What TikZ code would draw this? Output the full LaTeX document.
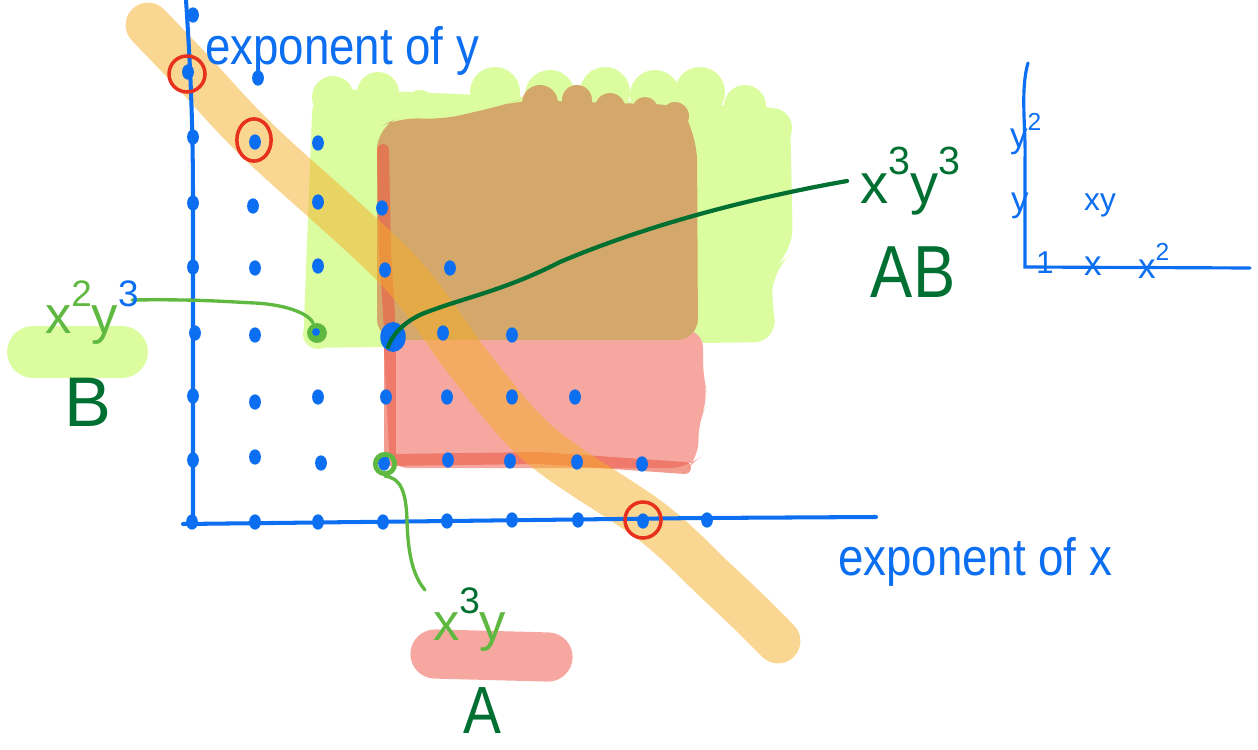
\documentclass[tikz,border=0pt]{standalone}
\usepackage{fontspec}
\setmainfont{Liberation Sans}
\usepackage{graphicx}
\usetikzlibrary{shapes.geometric}
\definecolor{pblue}{RGB}{12,110,240}
\definecolor{dgreen}{RGB}{0,112,50}
\definecolor{lgreen}{RGB}{95,185,65}
\definecolor{hgreen}{RGB}{220,252,160}
\definecolor{hred}{RGB}{246,168,160}
\definecolor{hbrown}{RGB}{212,168,106}
\definecolor{redline}{RGB}{235,90,70}
\definecolor{rcirc}{RGB}{232,48,30}
\definecolor{orangeb}{RGB}{245,173,39}
\newcommand{\rais}[1]{\raisebox{0.5em}{\scalebox{0.7}{#1}}}
\begin{document}
\begin{tikzpicture}[x=0.02cm,y=-0.02cm,
  dotn/.style={ellipse, fill=pblue, draw=pblue, line width=1.2pt, inner sep=0pt, minimum width=5.5pt, minimum height=7.5pt},
  axisline/.style={pblue, line width=2.3pt, line cap=round, line join=round},
  rring/.style={draw=rcirc, line width=2pt, inner sep=0pt},
  txt/.style={inner sep=0pt, outer sep=0pt},
  conn/.style={line width=1.9pt, line cap=round}]
\useasboundingbox (0,0) rectangle (1258,750);

% highlight blobs behind labels
\draw[hgreen, line width=29.5pt, line cap=round] (33,352) -- (122,352);
\draw[hred, line width=28pt, line cap=round] (435,654) -- (548,657);

% region B (green)
\fill[hgreen, rounded corners=14pt] (303,348) -- (313,88) -- (790,108) -- (793,252) -- (772,270) -- (772,305) -- (778,342) -- cycle;
\foreach \cx/\cy/\r in {333/97/21, 378/93/21, 420/105/15, 495/92/25, 550/95/25, 605/92/25, 655/95/25, 700/92/25, 745/106/21, 772/128/20, 318/334/15}
  \fill[hgreen] (\cx,\cy) circle[radius=\r];

% region A (red), lower part
\fill[hred, rounded corners=10pt] (383,330) -- (703,330) -- (703,378) -- (709,400) -- (698,422) -- (699,458) -- (688,468) -- (390,468) -- cycle;

% overlap AB (brown)
\fill[hbrown, rounded corners=12pt] (377,340) -- (377,128) -- (400,117) -- (440,120) -- (500,106) -- (520,100) -- (680,105) -- (697,140) -- (698,340) -- cycle;
\foreach \cx/\cy/\r in {540/103/18, 577/100/15, 610/108/15, 645/110/13, 675/116/14}
  \fill[hbrown] (\cx,\cy) circle[radius=\r];

% red edge strokes of A
\draw[redline, opacity=0.6, line width=6.8pt, line cap=round, line join=round] (383,150) -- (385,250) -- (390,330) -- (390,460) -- (540,458) -- (685,468);

% orange band
\draw[orangeb, opacity=0.5, line width=25.5pt, line cap=round, line join=round] plot[smooth, tension=0.55] coordinates {(148,25) (193,72) (260,143) (398,270) (470,365) (540,445) (652,522) (715,580) (750,613) (778,641)};

% axes
\draw[axisline] (186,0) .. controls (190,60) and (193,120) .. (193,200) -- (193,525);
\draw[axisline] (183,524) -- (450,521) -- (700,518) -- (876,517);

% lattice dots
\foreach \n/\a/\b in {p00/192/522, p10/255/522, p20/318/522, p30/383/522, p40/447/521, p50/512/520, p60/578/520, p70/643/521, p80/707/520,
  p01/193/460, p11/255/457, p21/321/463, p31/384/463, p41/448/460, p51/510/461, p61/577/462, p71/642/464,
  p02/193/396, p12/255/402, p22/318/397, p32/386/397, p42/447/397, p52/512/397, p62/575/397,
  p03/195/333, p13/255/335, p43/443/333, p53/512/335,
  p04/193/267, p14/255/268, p24/318/266, p34/385/270, p44/450/268,
  p05/193/203, p15/253/206, p25/318/202, p35/382/208,
  p06/193/137, p16/255/142, p26/318/143,
  p07/188/72, p17/258/78,
  p08/193/15}
  \node[dotn] (\n) at (\a,\b) {};

% special dots
\node[circle, fill=lgreen, inner sep=0pt, minimum size=11.3pt] (g23) at (317,333) {};
\node[circle, fill=pblue, inner sep=0pt, minimum size=4.5pt] (p23) at (316,332) {};
\node[ellipse, fill=pblue, inner sep=0pt, minimum width=14.5pt, minimum height=17pt] (p33) at (393,337) {};
\node[circle, draw=lgreen, line width=2.8pt, inner sep=0pt, minimum size=11pt] (r31) at (385,464) {};

% red circles on the line x+y=7
\node[rring, circle, minimum size=20.5pt] (c07) at (187,74) {};
\node[rring, ellipse, minimum width=19.5pt, minimum height=24pt] (c16) at (254,140) {};
\node[rring, circle, minimum size=20.5pt] (c70) at (643,520) {};

% connectors
\coordinate (e33) at (847,181);
\coordinate (e23) at (132,300);
\coordinate (e31) at (425,590);
\draw[conn, dgreen, line width=2.4pt] (388,347) .. controls (392,335) and (405,320) .. (427,312) .. controls (470,296) and (505,290) .. (560,262) .. controls (640,228) and (740,200) .. (e33);
\draw[conn, lgreen] (e23) .. controls (200,299) and (230,302) .. (255,303) .. controls (290,305) and (310,315) .. (g23);
\draw[conn, lgreen] (r31.south) .. controls (400,478) and (406,490) .. (407,520) .. controls (408,560) and (415,578) .. (e31);

% texts
\node[txt, pblue, anchor=base west, font=\fontsize{26}{30}\selectfont] (ty) at (205,65) {\scalebox{1}[1.15]{exponent of y}};
\node[txt, pblue, anchor=base west, font=\fontsize{26}{30}\selectfont] (tx) at (838,575) {\scalebox{1}[1.15]{exponent of x}};
\node[txt, dgreen, anchor=base west, font=\fontsize{32}{36}\selectfont] (t33) at (860,203) {x\rais{3}y\rais{3}};
\node[txt, dgreen, font=\fontsize{40}{44}\selectfont] (tAB) at (913,272) {\scalebox{0.9}[1.05]{AB}};
\node[txt, lgreen, anchor=base west, font=\fontsize{30}{34}\selectfont] (t23) at (45,333) {x\rais{2}y\rais{\textcolor{pblue}{3}}};
\node[txt, dgreen, font=\fontsize{40}{44}\selectfont] (tB) at (88,402) {B};
\node[txt, lgreen, anchor=base west, font=\fontsize{30}{34}\selectfont] (t31) at (433,640) {x\rais{\textcolor{dgreen}{3}}y};
\node[txt, dgreen, font=\fontsize{38}{42}\selectfont] (tA) at (482,711) {\scalebox{0.85}[1]{A}};

% small axes, top right
\draw[pblue, line width=1.8pt, line cap=round] (1028,63) .. controls (1020,90) and (1026,130) .. (1025,160) -- (1025,267) -- (1250,268);
\node[txt, pblue, font=\fontsize{18}{20}\selectfont] (s1) at (1045,263) {1};
\node[txt, pblue, font=\fontsize{20}{22}\selectfont] (sx) at (1093,266) {x};
\node[txt, pblue, anchor=base west, font=\fontsize{20}{22}\selectfont] (sx2) at (1138,278) {x\rais{2}};
\node[txt, pblue, font=\fontsize{18}{20}\selectfont] (sxy) at (1100,205) {xy};
\node[txt, pblue, font=\fontsize{20}{22}\selectfont] (sy) at (1020,206) {y};
\node[txt, pblue, anchor=base west, font=\fontsize{20}{22}\selectfont] (sy2) at (1010,148) {y\rais{2}};
\end{tikzpicture}
\end{document}
